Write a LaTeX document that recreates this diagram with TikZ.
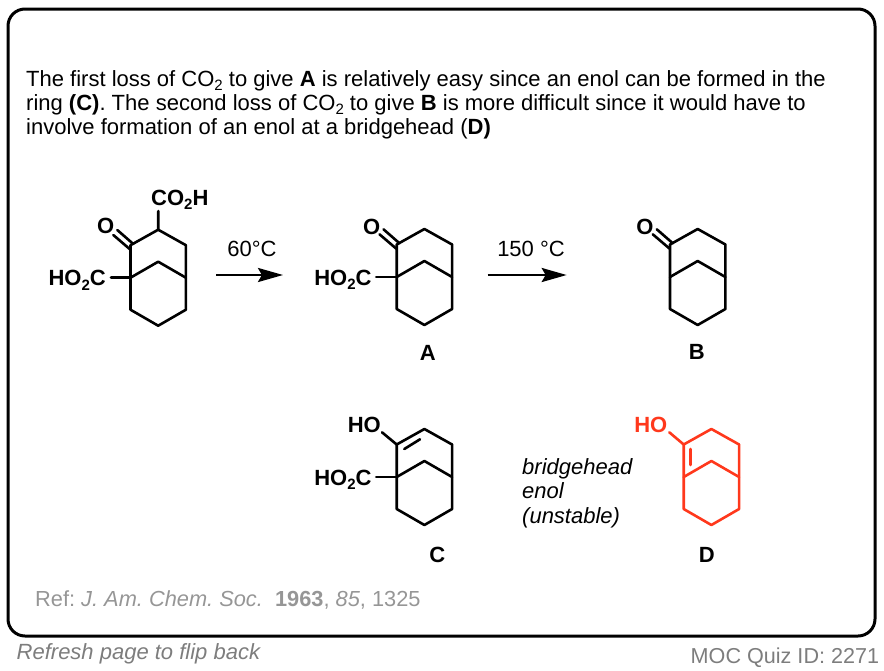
\documentclass[tikz,border=0pt]{standalone}
\usepackage{fontspec}
\setmainfont{Liberation Sans}
\usetikzlibrary{arrows.meta,calc}
\definecolor{enolred}{RGB}{255,56,28}
\definecolor{reftext}{RGB}{150,150,150}
\definecolor{notetext}{RGB}{125,125,125}
\newcommand{\subtwo}{\raisebox{-4.5pt}{\fontsize{15}{15}\selectfont 2}}
\tikzset{
  x=1pt,y=-1pt,
  frame/.style={draw=black,line width=3pt,rounded corners=17pt},
  bond/.style={line width=2.6pt,line join=round,line cap=round},
  para/.style={anchor=base west,inner sep=0pt,font=\fontsize{22}{24}\selectfont\frenchspacing},
  atom/.style={inner sep=0pt,font=\fontsize{22}{24}\selectfont\bfseries},
  cond/.style={inner sep=0pt,font=\fontsize{22}{24}\selectfont},
  lab/.style={inner sep=0pt,font=\fontsize{22}{24}\selectfont\bfseries},
  rxn/.style={line width=2.8pt,-{Stealth[length=25pt,width=14pt,inset=4pt]}},
}
% skeleton: #1 name, #2 x and #3 y of the left bridgehead, #4 colour
\newcommand{\bicyclo}[4]{%
  \coordinate (#1lb) at (#2,#3);
  \coordinate (#1k) at (#2,#3-32.5);
  \coordinate (#1t) at (#2+27.7,#3-48);
  \coordinate (#1ru) at (#2+55.4,#3-32.5);
  \coordinate (#1rb) at (#2+55.4,#3);
  \coordinate (#1br) at (#2+55.4,#3+32);
  \coordinate (#1b) at (#2+27.7,#3+48);
  \coordinate (#1bl) at (#2,#3+32);
  \coordinate (#1m) at (#2+27.7,#3-16);
  \draw[bond,#4] (#1lb) -- (#1k) -- (#1t) -- (#1ru) -- (#1rb) -- (#1br) -- (#1b) -- (#1bl) -- cycle;
  \draw[bond,#4] (#1lb) -- (#1m) -- (#1rb);
}
\newcommand{\keto}[1]{%
  \draw[bond] ($(#1k)+(2.8,-1.2)$) -- ($(#1k)+(-13.2,-15.2)$);
  \draw[bond] ($(#1k)+(-0.5,4.1)$) -- ($(#1k)+(-17.2,-10.2)$);
}
\begin{document}
\begin{tikzpicture}
\useasboundingbox (0,0) rectangle (884,670);
\draw[frame] (8,9) rectangle (875,636);

\node[para] (p1) at (26,86) {The first loss of CO\subtwo{} to give \textbf{A} is relatively easy since an enol can be formed in the};
\node[para] (p2) at (26,110) {ring \textbf{(C)}. The second loss of CO\subtwo{} to give \textbf{B} is more difficult since it would have to};
\node[para] (p3) at (26,134) {involve formation of an enol at a bridgehead (\textbf{D)}};

% starting material
\bicyclo{s}{130.5}{277.7}{black}
\keto{s}
\node[atom] (so) at (105.7,226) {O};
\node[atom,anchor=base west] (sacid) at (151,205) {CO\subtwo{}H};
\draw[bond] (st) -- (158.3,211);
\node[atom,anchor=base east] (sl) at (106,285.7) {HO\subtwo{}C};
\draw[bond] (sl.east |- slb) ++(5,0) -- (slb);

% A
\bicyclo{a}{396.7}{277}{black}
\keto{a}
\node[atom] (ao) at (371.7,226.7) {O};
\node[atom,anchor=base east] (al) at (371.7,285) {HO\subtwo{}C};
\draw[bond] (al.east |- alb) ++(4.5,0) -- (alb);
\node[lab] (la) at (427.7,352.7) {A};

% B
\bicyclo{b}{670}{277}{black}
\keto{b}
\node[atom] (bo) at (645,226.7) {O};
\node[lab] (lb) at (696.7,352) {B};

% C
\bicyclo{c}{396.7}{477}{black}
\node[atom,anchor=base east] (cho) at (381,432.7) {HO};
\draw[bond] (ck) -- (382,432.3);
\draw[bond] ($(ck)+(7.6,4.5)$) -- ($(ct)+(-4.4,10.3)$);
\node[atom,anchor=base east] (cl) at (371.7,485) {HO\subtwo{}C};
\draw[bond] (cl.east |- clb) ++(4.5,0) -- (clb);
\node[lab] (lc) at (437.3,555.3) {C};

% D
\bicyclo{d}{683.7}{477}{enolred}
\node[atom,anchor=base east,text=enolred] (dho) at (667.5,432.7) {HO};
\draw[bond,enolred] (dk) -- (669.3,432.3);
\draw[bond,enolred] (690.7,449) -- (690.7,465);
\node[lab] (ld) at (706.7,555.3) {D};

% arrows
\coordinate (r1a) at (216,275);
\coordinate (r1b) at (283,275);
\coordinate (r2a) at (487.5,275);
\coordinate (r2b) at (566.7,275);
\draw[rxn] (r1a) -- (r1b);
\draw[rxn] (r2a) -- (r2b);
\node[cond] (t1) at (252,249) {60°C};
\node[cond] (t2) at (531,249) {150 °C};

\node[anchor=north west,inner sep=0pt,align=left,font=\fontsize{22}{24.3}\selectfont\itshape] (note) at (522,458.5) {bridgehead\\enol\\(unstable)};

\node[para,text=reftext,font=\fontsize{21.8}{24}\selectfont\frenchspacing] (ref) at (35,606.7) {Ref: \textit{J. Am. Chem. Soc.}\ \ \textbf{1963}, \textit{85}, 1325};
\node[para,text=notetext] (flip) at (16.5,659.3) {\textit{Refresh page to flip back}};
\node[para,text=notetext,font=\fontsize{21.6}{24}\selectfont] (quiz) at (690.5,663.3) {MOC Quiz ID: 2271};
\end{tikzpicture}
\end{document}
